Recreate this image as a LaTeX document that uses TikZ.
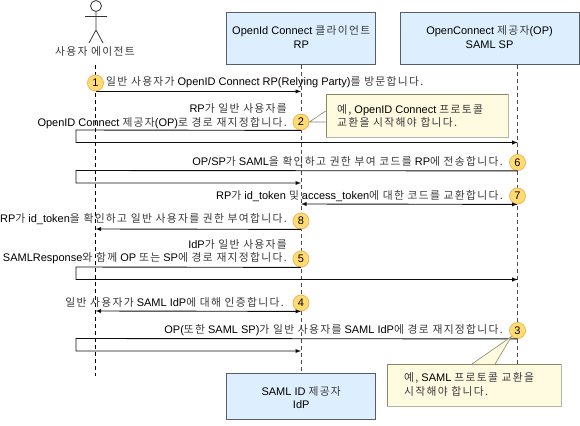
\documentclass[tikz,border=0pt]{standalone}
\usepackage{fontspec}
\setmainfont{Liberation Sans}
\newfontfamily\krfont[Scale=0.98,LetterSpace=12]{Noto Sans CJK KR}
\newcommand{\ko}[1]{{\krfont\color{black!78}#1}}
\definecolor{boxblue}{HTML}{DDEEFF}
\definecolor{boxline}{HTML}{555E66}
\definecolor{noteyellow}{HTML}{FFFBE1}
\definecolor{noteline}{HTML}{8C8660}
\definecolor{noteshadow}{HTML}{B4B4A8}
\definecolor{stepyellow}{HTML}{FFDC73}
\definecolor{stepline}{HTML}{F2B45A}
\tikzset{
  party/.style={draw=boxline,fill=boxblue,line width=1pt,inner sep=0pt,align=center},
  lifeline/.style={draw=black!70,dashed,line width=1pt,dash pattern=on 4pt off 3pt},
  notebox/.style={draw=noteline,fill=noteyellow,line width=0.6pt,inner sep=0pt},
  notetext/.style={anchor=west,inner sep=0pt,align=left},
  stepnum/.style={circle,draw=stepline,fill=stepyellow,line width=0.8pt,minimum size=16pt,inner sep=0pt},
  msgtext/.style={anchor=east,inner sep=0pt,align=right},
  msgline/.style={msgtext,text height=8pt,text depth=2.5pt},
  msg/.style={draw=black!95,line width=0.9pt,-latex},
  msgboth/.style={draw=black!95,line width=0.9pt,latex-latex},
}
\begin{document}
\begin{tikzpicture}[x=1pt,y=-1pt,font=\fontsize{11}{13.5}\selectfont]
\useasboundingbox (0,0) rectangle (580,425);
\node[party,minimum width=148.5pt,minimum height=52pt] (rp) at (301.2,39) {OpenId Connect \ko{클라이언트}\\RP\rule[-4pt]{0pt}{4pt}};
\node[party,minimum width=179pt,minimum height=52pt] (op) at (489.5,39) {OpenConnect \ko{제공자}(OP)\\SAML SP\rule[-4pt]{0pt}{4pt}};
\node[party,minimum width=148.5pt,minimum height=46pt] (idp) at (301.2,396) {\rule{0pt}{12pt}SAML ID \ko{제공자}\\IdP};
\node[circle,draw=black!80,line width=0.8pt,minimum size=11pt,inner sep=0pt] (head) at (96,6) {};
\coordinate (hip) at (96,30);
\coordinate (armL) at (85,16.5);
\coordinate (armR) at (107,16.5);
\coordinate (legL) at (89,43);
\coordinate (legR) at (103,43);
\draw[black!80,line width=0.8pt] (head) -- (hip) -- (legL) (hip) -- (legR) (armL) -- (armR);
\node[inner sep=0pt] (user) at (95,51) {\ko{사용자 에이전트}};
\coordinate (userTop) at (95.5,65);
\coordinate (userEnd) at (95.5,376);
\coordinate (opEnd) at (517.7,364);
\draw[lifeline,draw=black] (userTop) -- (userEnd);
\draw[lifeline] (rp.south) -- (idp.north);
\draw[lifeline] (op.south -| opEnd) -- (opEnd);
\node[stepnum] (n1) at (95.5,83) {1};
\node[stepnum] (n2) at (301,122) {2};
\node[stepnum] (n3) at (517.5,330.5) {3};
\node[stepnum] (n4) at (301,303) {4};
\node[stepnum] (n5) at (301,259) {5};
\node[stepnum] (n6) at (517.5,162.5) {6};
\node[stepnum] (n7) at (517.5,196) {7};
\node[stepnum] (n8) at (301,221) {8};
\node[msgline,anchor=west] (t1) at (106,83) {\ko{일반 사용자가} OpenID Connect RP(Relying Party)\ko{를 방문합니다.}};
\node[msgtext] (t2) at (287,116) {RP\ko{가 일반 사용자를}\\OpenID Connect \ko{제공자}(OP)\ko{로 경로 재지정합니다.}};
\node[msgline] (t3) at (503,331) {OP(\ko{또한} SAML SP)\ko{가 일반 사용자를} SAML IdP\ko{에 경로 재지정합니다.}};
\node[msgline] (t4) at (284,303.5) {\ko{일반 사용자가} SAML IdP\ko{에 대해 인증합니다.}};
\node[msgtext] (t5) at (287,251.5) {IdP\ko{가 일반 사용자를}\\SAMLResponse\ko{와 함께} OP \ko{또는} SP\ko{에 경로 재지정합니다.}};
\node[msgline] (t6) at (503,163) {OP/SP\ko{가} SAML\ko{을 확인하고 권한 부여 코드를} RP\ko{에 전송합니다.}};
\node[msgline] (t7) at (503,196.5) {RP\ko{가} id\_token \ko{및} access\_token\ko{에 대한 코드를 교환합니다.}};
\node[msgline] (t8) at (287,220) {RP\ko{가} id\_token\ko{을 확인하고 일반 사용자를 권한 부여합니다.}};
\coordinate (r1) at (301,91);
\coordinate (a2) at (76,130);
\coordinate (b2) at (76,142.5);
\coordinate (o2) at (517.7,142.5);
\coordinate (a6) at (76,170.5);
\coordinate (b6) at (76,183);
\coordinate (r6) at (301,183);
\coordinate (r7) at (301,204);
\coordinate (r8) at (301,229);
\coordinate (u8) at (95.5,229);
\coordinate (a5) at (76,267);
\coordinate (b5) at (76,279.5);
\coordinate (o5) at (517.7,279.5);
\coordinate (u4) at (95.5,311);
\coordinate (a3) at (76,338.5);
\coordinate (b3) at (76,351);
\coordinate (r3) at (301,351);
\draw[msg] (n1.south) -- (n1.south -| r1);
\draw[msg] (n2.south) -- (a2) -- (b2) -- (o2);
\draw[msg] (n6.south) -- (a6) -- (b6) -- (r6);
\draw[msgboth] (r7) -- (n7.south);
\draw[msg] (r8 |- n8.south) -- (u8);
\draw[msg] (n5.south) -- (a5) -- (b5) -- (o5);
\draw[msgboth] (u4) -- (n4.south);
\draw[msg] (n3.south) -- (a3) -- (b3) -- (r3);
\node[notebox,minimum width=182pt,minimum height=43pt] (note2) at (417,115.7) {};
\node[notebox,minimum width=174pt,minimum height=42pt] (note3) at (474,385) {};
\draw[noteshadow,line width=1pt] (note2.north east) -- (note2.south east) -- (note2.south west);
\draw[noteshadow,line width=1pt] (note3.north east) -- (note3.south east) -- (note3.south west);
\coordinate (p2a) at (325.7,111);
\coordinate (p2b) at (325.7,122);
\coordinate (p3a) at (472,364);
\coordinate (p3b) at (495,364);
\draw[noteline,line width=0.6pt] (p2a) -- (n2.east) -- (p2b);
\fill[noteyellow] (p3a) -- (n3.south west) -- (p3b) -- cycle;
\draw[noteline,line width=0.6pt] (p3a) -- (n3.south west) -- (p3b);
\node[notetext] (note2t) at (337,116) {\ko{예,} OpenID Connect \ko{프로토콜}\\\ko{교환을 시작해야 합니다.}};
\node[notetext] (note3t) at (404,384.5) {\ko{예,} SAML \ko{프로토콜 교환을}\\\ko{시작해야 합니다.}};
\end{tikzpicture}
\end{document}
